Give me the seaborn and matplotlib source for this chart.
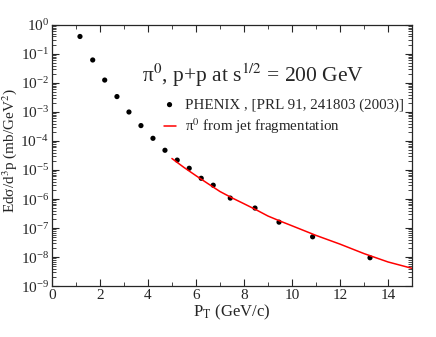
import matplotlib
matplotlib.use("Agg")
import matplotlib.pyplot as plt
import numpy as np
import pandas as pd
import seaborn as sns
from matplotlib.ticker import LogLocator, MultipleLocator, NullFormatter

# PHENIX pi0 cross section points (pT in GeV/c, E d3sigma/dp3 in mb/GeV^2)
phenix_pt = [1.17, 1.70, 2.20, 2.71, 3.21, 3.71, 4.21, 4.71, 5.22, 5.72,
             6.22, 6.72, 7.43, 8.46, 9.46, 10.86, 13.25]
phenix_xsec = [4.0e-1, 6.2e-2, 1.26e-2, 3.4e-3, 1.0e-3, 3.4e-4, 1.24e-4, 4.8e-5,
               2.2e-5, 1.15e-5, 5.2e-6, 3.0e-6, 1.08e-6, 4.9e-7, 1.6e-7, 5.0e-8, 9.5e-9]

# jet fragmentation curve
frag_pt = [5.0, 5.5, 6.0, 6.5, 7.0, 7.5, 8.0, 8.5, 9.0, 9.5, 10.0,
           11.0, 12.0, 13.0, 14.0, 15.0]
frag_xsec = [2.5e-5, 1.23e-5, 6.4e-6, 3.4e-6, 1.82e-6, 1.1e-6, 6.9e-7, 4.3e-7,
             2.6e-7, 1.75e-7, 1.2e-7, 5.6e-8, 2.8e-8, 1.32e-8, 6.8e-9, 4.1e-9]

sns.set_style("ticks")
plt.rcParams["font.family"] = ["Liberation Serif", "DejaVu Serif"]
plt.rcParams["mathtext.fontset"] = "stix"

pts = pd.DataFrame({"pt": phenix_pt, "xsec": phenix_xsec})
frag = pd.DataFrame({"pt": frag_pt, "xsec": frag_xsec})

fig = plt.figure(figsize=(4.36, 3.37), dpi=100)
ax = fig.add_axes([0.119, 0.151, 0.826, 0.775])

sns.lineplot(data=frag, x="pt", y="xsec", ax=ax, color="#ff0000", linewidth=1.1,
             label="π$^0$ from jet fragmentation")
sns.scatterplot(data=pts, x="pt", y="xsec", ax=ax, color="black", s=14,
                edgecolor="none", label="PHENIX , [PRL 91, 241803 (2003)]")

ax.set_yscale("log")
ax.set_xlim(0, 15)
ax.set_ylim(1e-9, 1)
ax.xaxis.set_major_locator(MultipleLocator(2))
ax.xaxis.set_minor_locator(MultipleLocator(1))
ax.yaxis.set_major_locator(LogLocator(base=10, numticks=12))
ax.yaxis.set_minor_locator(LogLocator(base=10, subs=np.arange(2, 10), numticks=12))
ax.yaxis.set_minor_formatter(NullFormatter())
ax.tick_params(which="both", direction="in", top=True, right=True, labelsize=11, pad=2)
ax.tick_params(which="major", length=5, width=0.8)
ax.tick_params(which="minor", length=3, width=0.6)
for s in ax.spines.values():
    s.set_linewidth(0.9)

ax.set_xlabel(r"P$_\mathrm{T}$ (GeV/c)", fontsize=12, labelpad=1)
ax.set_ylabel("Edσ/d$^3$p (mb/GeV$^2$)", fontsize=11)
ax.yaxis.set_label_coords(-0.09, 0.52)

ax.text(0.249, 0.782, "π$^0$, p+p at s$^{1/2}$ = 200 GeV", transform=ax.transAxes,
        fontsize=15.5, va="baseline", ha="left")

handles, labels = ax.get_legend_handles_labels()
ax.legend(handles[::-1], labels[::-1], loc="upper left", bbox_to_anchor=(0.31, 0.72),
          frameon=False, fontsize=10.8, handlelength=0.8, handletextpad=0.6,
          labelspacing=0.3, borderpad=0, borderaxespad=0)

fig.savefig("out.png", dpi=100)
